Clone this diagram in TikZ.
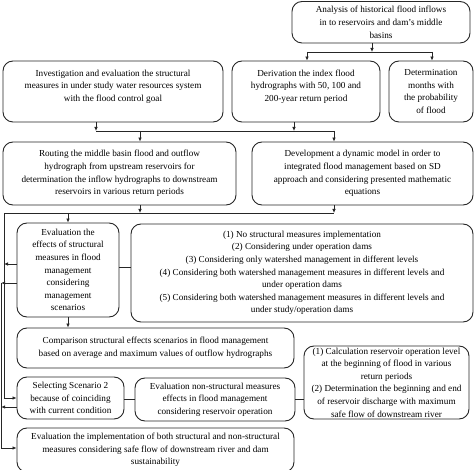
\documentclass[tikz,border=0pt]{standalone}
\usepackage{fontspec}
\setmainfont{Liberation Serif}
\usetikzlibrary{arrows.meta}
\begin{document}
\begin{tikzpicture}[x=1pt,y=-1pt,
 box/.style={draw=black!85, line width=0.9pt, rounded corners=10pt, align=center, inner sep=1pt, font=\fontsize{9.2}{12.6}\selectfont},
 link/.style={draw=black!85, line width=0.9pt},
 arr/.style={link, -{Latex[length=4pt,width=3.6pt]}}]
\useasboundingbox (0,0) rectangle (474,470);

\node[box, minimum width=178pt, minimum height=41.5pt] (A) at (381,22.25) {Analysis of historical flood inflows\\in to reservoirs and dam’s middle\\basins};
\node[box, minimum width=220pt, minimum height=61pt, text depth=12pt] (B) at (113,91.5) {Investigation and evaluation the structural\\measures in under study water resources system\\with the flood control goal};
\node[box, minimum width=148pt, minimum height=61pt, text depth=12pt] (D) at (306,91.5) {Derivation the index flood\\hydrographs with 50, 100 and\\200-year return period};
\node[box, minimum width=84pt, minimum height=61pt] (M) at (431,91.5) {Determination\\months with\\the probability\\of flood};
\node[box, minimum width=233pt, minimum height=63pt] (R) at (119.5,173.5) {Routing the middle basin flood and outflow\\hydrograph from upstream reservoirs for\\determination the inflow hydrographs to downstream\\reservoirs in various return periods};
\node[box, minimum width=221pt, minimum height=63pt] (V) at (362.5,173.5) {Development a dynamic model in order to\\integrated flood management based on SD\\approach and considering presented mathematic\\equations};
\node[box, minimum width=102pt, minimum height=94pt] (E) at (68,270) {Evaluation the\\effects of structural\\measures in flood\\management\\considering\\management\\scenarios};
\node[box, minimum width=342pt, minimum height=98pt] (S) at (302,273) {(1) No structural measures implementation\\(2) Considering under operation dams\\(3) Considering only watershed management in different levels\\(4) Considering both watershed management measures in different levels and\\under operation dams\\(5) Considering both watershed management measures in different levels and\\under study/operation dams};
\node[box, minimum width=277pt, minimum height=40pt] (C) at (155.5,348) {Comparison structural effects scenarios in flood management\\based on average and maximum values of outflow hydrographs};
\node[box, minimum width=107pt, minimum height=42pt] (G) at (70.5,398) {Selecting Scenario 2\\because of coinciding\\with current condition};
\node[box, minimum width=160pt, minimum height=43pt] (N) at (215,399.5) {Evaluation non-structural measures\\effects in flood management\\considering reservoir operation};
\node[box, minimum width=165pt, minimum height=73pt] (Q) at (386.5,382.5) {(1) Calculation reservoir operation level\\at the beginning of flood in various\\return periods\\(2) Determination the beginning and end\\of reservoir discharge with maximum\\safe flow of downstream river};
\node[box, minimum width=277pt, minimum height=44pt] (F) at (155.5,450) {Evaluation the implementation of both structural and non-structural\\measures considering safe flow of downstream river and dam\\sustainability};

% junction coordinates
\coordinate (j1) at (372,52);
\coordinate (j1l) at (307,52);
\coordinate (j1r) at (432,52);
\coordinate (j2l) at (96,131);
\coordinate (j2m) at (294,131);
\coordinate (j2a) at (140,131);
\coordinate (j2r) at (334,131);
\coordinate (j3l) at (4,213);
\coordinate (j3a) at (140,213);
\coordinate (j3b) at (68,213);
\coordinate (j3r) at (334,213);
\coordinate (v1b) at (4,398);
\coordinate (v2t) at (1.2,283);
\coordinate (v2b) at (1.2,448);

\draw[arr] (372,0 |- A.south) -- (j1);
\draw[link] (j1l) -- (j1r);
\draw[arr] (j1l) -- (j1l |- D.north);
\draw[arr] (j1r) -- (j1r |- M.north);

\draw[arr] (j2l |- B.south) -- (j2l);
\draw[arr] (j2m |- D.south) -- (j2m);
\draw[link] (j2l) -- (j2r);
\draw[arr] (j2a) -- (j2a |- R.north);
\draw[arr] (j2r) -- (j2r |- V.north);

\draw[arr] (j3a |- R.south) -- (j3a);
\draw[arr] (j3r |- V.south) -- (j3r);
\draw[link] (j3l) -- (j3r);
\draw[arr] (j3b) -- (j3b |- E.north);
\draw[link] (j3l) -- (v1b);
\draw[arr] (v1b) -- (G.west |- v1b);

\draw[arr] (E.west |- 0,264) -- (4,264);
\draw[arr] (E.west |- v2t) -- (v2t);
\draw[link] (v2t) -- (v2b);
\draw[arr] (v2b) -- (F.west |- v2b);
\draw[arr] (G.west |- 0,407) -- (1.2,407);

\draw[link] (E.east |- 0,267) -- (S.west |- 0,267);
\draw[arr] (E.south) -- (E.south |- C.north);
\draw[link] (G.east |- 0,399) -- (N.west |- 0,399);
\draw[link] (N.east |- 0,399) -- (Q.west |- 0,399);
\end{tikzpicture}
\end{document}
